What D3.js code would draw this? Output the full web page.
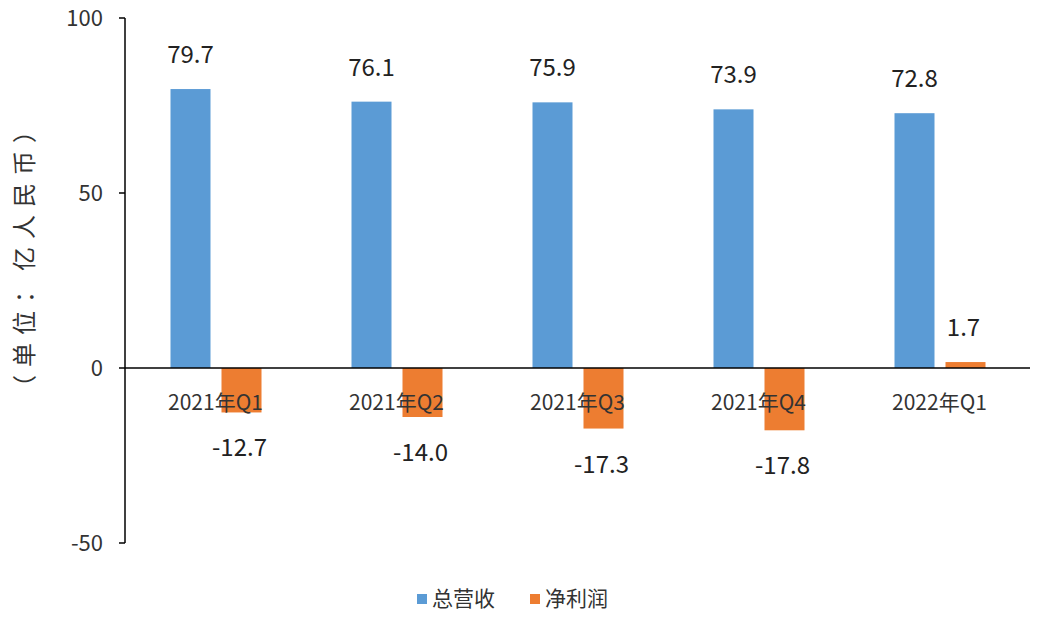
<!DOCTYPE html>
<html><head><meta charset="utf-8">
<script src="https://cdn.jsdelivr.net/npm/d3@7"></script>
<style>body{margin:0;background:#fff}text{font-family:"Noto Sans CJK SC","Liberation Sans",sans-serif}</style>
</head><body><div id="chart"></div>
<script>
// Daten
const categories = ["2021年Q1", "2021年Q2", "2021年Q3", "2021年Q4", "2022年Q1"];
const revenue = [79.7, 76.1, 75.9, 73.9, 72.8];
const profit = [-12.7, -14.0, -17.3, -17.8, 1.7];
const yTicks = [-50, 0, 50, 100];

const width = 1046, height = 622;
const svg = d3.select("#chart").append("svg").attr("width", width).attr("height", height);

const x = d3.scaleBand().domain(categories).range([125, 1030]);
const y = d3.scaleLinear().domain([-50, 100]).range([543, 18]);
const barW = 40;

// Achsen
svg.append("line").attr("x1", 125).attr("x2", 125).attr("y1", y(100)).attr("y2", y(-50))
    .attr("stroke", "#000").attr("stroke-width", 1.5);
svg.selectAll(".tick").data(yTicks).join("line")
    .attr("x1", 119).attr("x2", 125).attr("y1", d => y(d)).attr("y2", d => y(d))
    .attr("stroke", "#000").attr("stroke-width", 1.5);
svg.selectAll(".ytl").data(yTicks).join("text")
    .attr("x", 103).attr("y", d => y(d) + 2).attr("text-anchor", "end")
    .attr("dominant-baseline", "middle").attr("font-size", 22).attr("fill", "#333")
    .attr("font-family", "Liberation Sans").text(d => d);

svg.append("text").attr("transform", "translate(26,255) rotate(-90)")
    .attr("text-anchor", "middle").attr("dominant-baseline", "middle")
    .attr("font-size", 24).attr("letter-spacing", 8).attr("fill", "#333").text("（单位：亿人民币）");

// Balken
const cx = d => x(d) + x.bandwidth() / 2;
svg.selectAll(".rev").data(categories).join("rect")
    .attr("x", d => cx(d) - barW - 5).attr("width", barW)
    .attr("y", (d, i) => y(revenue[i])).attr("height", (d, i) => y(0) - y(revenue[i]))
    .attr("fill", "#5b9bd5");
svg.selectAll(".pro").data(categories).join("rect")
    .attr("x", d => cx(d) + 6).attr("width", barW)
    .attr("y", (d, i) => y(Math.max(0, profit[i])))
    .attr("height", (d, i) => Math.abs(y(0) - y(profit[i])))
    .attr("fill", "#ed7d31");

// Nulllinie
svg.append("line").attr("x1", 125).attr("x2", 1030).attr("y1", y(0)).attr("y2", y(0))
    .attr("stroke", "#000").attr("stroke-width", 1.5);

// Beschriftungen
svg.selectAll(".rl").data(categories).join("text")
    .attr("x", d => cx(d) - barW / 2 - 5).attr("y", (d, i) => y(revenue[i]) - 26)
    .attr("text-anchor", "middle").attr("font-size", 24).attr("fill", "#222")
    .attr("font-family", "Liberation Sans").text((d, i) => revenue[i].toFixed(1));
svg.selectAll(".pl").data(categories).join("text")
    .attr("x", d => cx(d) + 6 + barW / 2 - 2)
    .attr("y", (d, i) => profit[i] < 0 ? y(profit[i]) + 44 : y(profit[i]) - 26)
    .attr("text-anchor", "middle").attr("font-size", 24).attr("fill", "#222")
    .attr("font-family", "Liberation Sans").text((d, i) => profit[i].toFixed(1));
svg.selectAll(".cl").data(categories).join("text")
    .attr("x", d => cx(d)).attr("y", y(0) + 42)
    .attr("text-anchor", "middle").attr("font-size", 21).attr("fill", "#333")
    .text(d => d);

// Legende
const legend = [["总营收", "#5b9bd5", 417], ["净利润", "#ed7d31", 530]];
legend.forEach(([name, c, lx]) => {
    svg.append("rect").attr("x", lx).attr("y", 594).attr("width", 10).attr("height", 10).attr("fill", c);
    svg.append("text").attr("x", lx + 15).attr("y", 600).attr("dominant-baseline", "middle")
        .attr("font-size", 21).attr("fill", "#333").text(name);
});
</script></body></html>
